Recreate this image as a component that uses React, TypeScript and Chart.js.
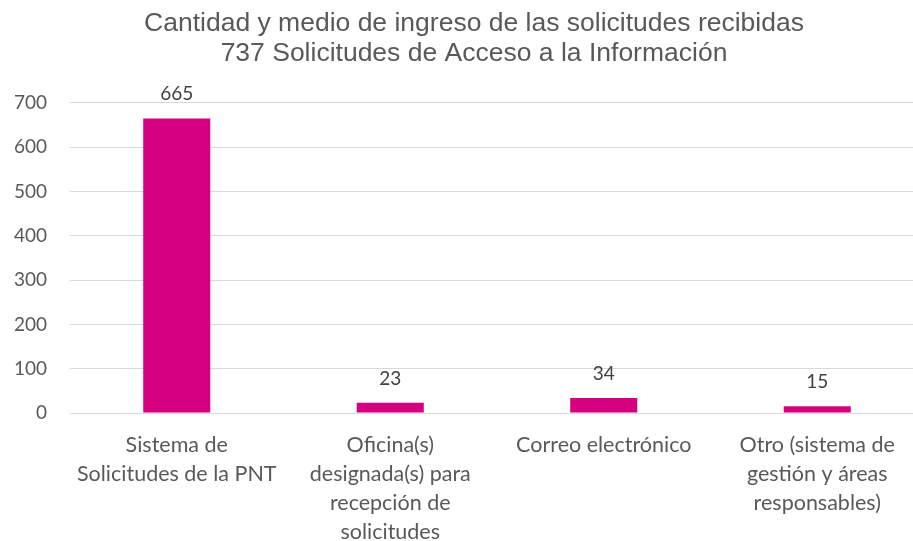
import React, { useEffect, useRef } from "react";
import { Chart, registerables } from "chart.js";

Chart.register(...registerables);

const categories: string[][] = [
  ["Sistema de", "Solicitudes de la PNT"],
  ["Oficina(s)", "designada(s) para", "recepción de", "solicitudes"],
  ["Correo electrónico"],
  ["Otro (sistema de", "gestión y áreas", "responsables)"],
];
const values: number[] = [665, 23, 34, 15];
const titleLines: string[] = [
  "Cantidad y medio de ingreso de las solicitudes recibidas",
  "737 Solicitudes de Acceso a la Información",
];
const yMin = 0;
const yMax = 700;
const yStep = 100;

const BAR_COLOR = "#D5007F";
const TEXT_COLOR = "#595959";
const LABEL_COLOR = "#404040";
const GRID_COLOR = "#D9D9D9";

const valueLabels = {
  id: "valueLabels",
  afterDatasetsDraw(chart: any) {
    const ctx = chart.ctx;
    const meta = chart.getDatasetMeta(0);
    ctx.save();
    ctx.font = "19px Lato";
    ctx.fillStyle = LABEL_COLOR;
    ctx.textAlign = "center";
    ctx.textBaseline = "alphabetic";
    meta.data.forEach((bar: any, i: number) => {
      const v = chart.data.datasets[0].data[i];
      ctx.fillText(String(v), bar.x, bar.y - 18);
    });
    ctx.restore();
  },
};

// widen the y-axis label clip area to the canvas edge
const axisEdge = {
  id: "axisEdge",
  afterLayout(chart: any) {
    const y = chart.scales.y;
    if (y) y.left = 0;
  },
};

export default function App() {
  const ref = useRef<HTMLCanvasElement | null>(null);
  useEffect(() => {
    document.body.style.overflow = "hidden";
    const canvas = ref.current!;
    const chart = new Chart(canvas, {
      type: "bar",
      data: {
        labels: categories,
        datasets: [
          {
            data: values,
            backgroundColor: BAR_COLOR,
            borderWidth: 0,
            barPercentage: 1,
            categoryPercentage: 0.314,
          },
        ],
      },
      options: {
        animation: false,
        responsive: false,
        maintainAspectRatio: false,
        layout: { padding: { left: 24, right: 6, top: 0, bottom: 0 } },
        plugins: {
          legend: { display: false },
          tooltip: { enabled: false },
          title: {
            display: true,
            text: titleLines,
            color: TEXT_COLOR,
            font: { family: "'Liberation Sans', Arial, sans-serif", size: 26.5, weight: "normal", lineHeight: 1.132 },
            padding: { top: 9, bottom: 34 },
          },
        },
        scales: {
          x: {
            grid: { display: false, drawTicks: false },
            border: { display: false },
            ticks: {
              color: TEXT_COLOR,
              font: { family: "Lato", size: 21.5, lineHeight: 1.36 },
              padding: 17,
              maxRotation: 0,
              autoSkip: false,
            },
            afterFit(scale: any) {
              scale.height = 128;
            },
          },
          y: {
            min: yMin,
            max: yMax,
            grid: { color: GRID_COLOR, drawTicks: false, lineWidth: 1 },
            border: { display: false },
            ticks: {
              stepSize: yStep,
              color: TEXT_COLOR,
              font: { family: "Lato", size: 19 },
              padding: 23,
            },
            afterFit(scale: any) {
              scale.width = 46;
            },
          },
        },
      },
      plugins: [valueLabels, axisEdge],
    });
    return () => chart.destroy();
  }, []);
  return (
    <div style={{ position: "fixed", left: 0, top: 0, width: 913, height: 541, overflow: "hidden", background: "#fff" }}>
      <canvas ref={ref} width={930} height={541} style={{ display: "block" }} />
    </div>
  );
}
